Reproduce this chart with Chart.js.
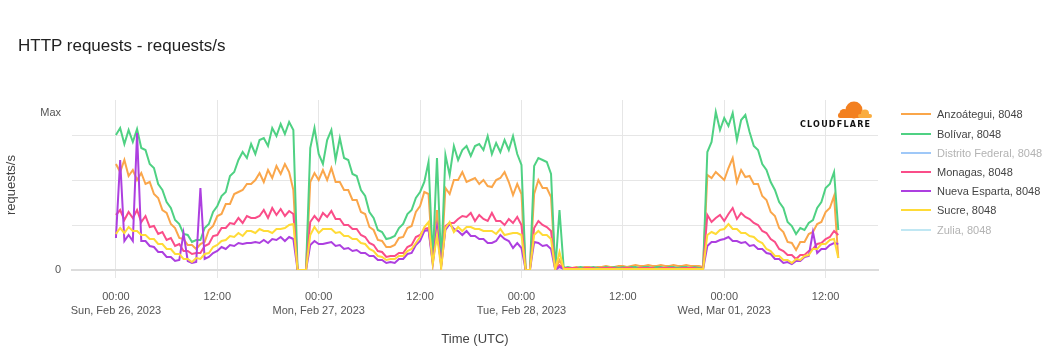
<!DOCTYPE html>
<html>
<head>
<meta charset="utf-8">
<script src="https://cdn.jsdelivr.net/npm/chart.js@4.4.0/dist/chart.umd.min.js"></script>
<style>
  body { margin: 0; background: #fff; font-family: "Liberation Sans", Arial, sans-serif; }
  #wrap { position: relative; width: 1060px; height: 360px; }
  #title { position: absolute; left: 18px; top: 36px; font-size: 17px; color: #222; }
  #legend { position: absolute; left: 901px; top: 0; }
  .item { position: absolute; left: 0; height: 19px; display: flex; align-items: center; white-space: nowrap; font-size: 11px; }
  .item span.ln { display: inline-block; width: 30px; height: 2px; margin-right: 6px; }
  #logo { position: absolute; left: 798px; top: 99px; }
</style>
</head>
<body>
<div id="wrap">
  <canvas id="myChart" width="1060" height="360"></canvas>
  <div id="title">HTTP requests - requests/s</div>
  <div id="legend"></div>
  <svg id="logo" width="76" height="30" viewBox="0 0 76 30">
    <circle cx="56" cy="11" r="8.5" fill="#f38020"/>
    <circle cx="46" cy="14.5" r="4.5" fill="#f38020"/>
    <rect x="40" y="14" width="26" height="5" rx="2" fill="#f38020"/>
    <circle cx="67" cy="14.5" r="4" fill="#faad3f"/>
    <rect x="60" y="15" width="14" height="4" rx="2" fill="#faad3f"/>
    <text x="2" y="28" font-family="DejaVu Sans, sans-serif" font-weight="bold" font-size="8" fill="#111" textLength="70" lengthAdjust="spacing">CLOUDFLARE</text>
  </svg>
</div>
<script>
// half-hour samples from Sun Feb 26 2023 00:00 UTC (values relative, Max = 157)
var startHour = 0;
var stepHours = 0.5;

var seriesNames = ["Anzoátegui, 8048", "Bolívar, 8048", "Distrito Federal, 8048", "Monagas, 8048", "Nueva Esparta, 8048", "Sucre, 8048", "Zulia, 8048"];
var seriesColors = ["#faa64a", "#4fd183", "#9fc8f8", "#fa4d89", "#ad3fe0", "#ffdb37", "#c0e7f3"];
var seriesHidden = [false, false, true, false, false, false, true];

var anzoategui = [
  106,98,110,94,100,90,97,86,88,76,72,60,
  57,46,42,32,31,25,25,21,26,28,40,44,
  54,56,66,66,76,78,80,86,86,90,97,88,
  100,92,104,96,106,98,80,0,0,0,88,97,
  90,100,90,102,88,88,80,80,70,70,58,56,
  43,40,30,29,23,23,25,32,33,42,44,58,
  64,78,76,8,60,5,82,76,90,90,98,88,
  90,92,86,90,84,83,90,92,98,88,75,86,
  76,0,0,76,90,82,82,73,0,10,2,2,
  2,3,2,3,3,2,3,3,4,3,3,4,
  4,3,4,5,4,4,5,4,4,5,4,4,
  5,4,4,5,4,4,4,3,95,92,98,94,
  90,102,112,88,100,93,94,86,86,74,70,58,
  54,42,38,28,27,20,28,28,36,38,46,48,
  58,62,74,12
];
var bolivar = [
  135,142,126,140,128,141,122,120,106,102,86,80,
  68,62,50,46,36,35,28,30,30,42,46,58,
  64,74,78,94,98,110,118,112,126,116,130,132,
  124,142,134,146,136,148,140,0,0,0,122,142,
  116,106,130,140,110,132,112,110,96,94,80,74,
  58,52,40,38,31,32,34,42,46,56,60,72,
  78,88,108,10,112,6,115,95,124,110,120,124,
  114,124,126,120,134,116,127,118,130,120,134,116,
  105,0,0,104,112,110,108,96,0,60,2,3,
  2,2,3,2,2,3,2,2,3,2,3,2,
  3,2,3,3,2,3,3,2,3,3,2,3,
  3,2,3,3,2,3,2,2,118,128,158,140,
  152,144,157,130,150,155,138,124,120,106,100,88,
  80,68,62,48,44,36,42,40,47,50,62,68,
  82,86,98,40
];
var monagas = [
  55,60,50,58,52,60,48,54,43,44,36,38,
  30,32,24,26,19,19,16,17,17,24,26,34,
  35,42,42,47,46,52,47,54,52,52,54,60,
  52,62,55,61,54,59,56,0,0,0,48,54,
  49,57,53,59,51,51,45,45,41,41,35,33,
  27,25,19,18,13,14,14,17,17,23,25,33,
  35,41,42,8,40,5,44,47,47,51,54,53,
  57,49,55,51,49,57,49,49,45,51,47,53,
  45,0,0,42,49,45,43,39,0,5,2,2,
  2,2,1,2,2,2,1,2,2,2,2,1,
  2,2,2,1,2,2,2,2,1,2,2,2,
  2,1,2,2,2,2,1,2,55,48,52,55,
  49,56,62,51,57,53,51,47,45,39,37,31,
  28,21,19,15,15,11,15,15,19,21,26,27,
  31,33,39,35
];
var nuevaEsparta = [
  32,110,29,35,29,137,29,29,24,23,18,18,
  13,13,9,10,37,9,7,8,82,11,13,17,
  19,23,21,25,24,27,26,27,27,28,27,30,
  27,31,30,33,29,33,31,0,0,0,25,29,
  26,26,27,28,24,25,21,22,19,20,17,17,
  14,14,10,10,7,8,7,11,11,16,17,25,
  29,39,40,6,42,4,40,46,41,39,35,39,
  34,34,31,31,27,27,29,35,31,29,22,27,
  22,0,0,28,27,24,25,21,0,3,1,1,
  1,1,1,1,1,1,1,1,1,1,1,1,
  1,1,1,1,1,1,1,1,1,1,1,1,
  1,1,1,1,1,1,1,1,24,28,28,30,
  31,33,29,29,27,28,24,25,21,21,17,16,
  11,11,7,8,6,9,9,13,14,38,17,21,
  21,25,27,26
];
var sucre = [
  36,42,37,43,39,39,35,35,31,31,26,26,
  21,21,16,16,11,11,8,12,11,16,17,23,
  25,29,30,34,33,37,34,39,39,37,41,39,
  39,37,41,41,42,45,46,0,0,0,35,43,
  37,41,41,41,37,38,34,34,31,31,27,26,
  21,19,14,13,10,11,11,14,14,19,21,27,
  33,43,48,6,35,2,42,48,38,43,39,43,
  43,41,41,39,39,39,36,41,35,36,37,37,
  35,0,0,35,39,35,35,31,0,18,1,1,
  1,1,1,1,1,1,1,1,1,1,1,1,
  1,1,1,1,1,1,1,1,1,1,1,1,
  1,1,1,1,1,1,1,1,35,38,36,40,
  41,46,41,41,37,37,34,33,29,27,21,19,
  14,14,10,10,7,11,10,14,15,21,21,26,
  26,30,31,12
];
var distritoFederal = [];
var zulia = [];

var tickHours = [0, 12, 24, 36, 48, 60, 72, 84];
var tickLabels = [
  ["00:00", "Sun, Feb 26, 2023"], "12:00",
  ["00:00", "Mon, Feb 27, 2023"], "12:00",
  ["00:00", "Tue, Feb 28, 2023"], "12:00",
  ["00:00", "Wed, Mar 01, 2023"], "12:00"
];
var yTicks = [0, 45, 90, 135, 157];
var yLabels = ["0", "", "", "", "Max"];

var seriesValues = [anzoategui, bolivar, distritoFederal, monagas, nuevaEsparta, sucre, zulia];
var drawOrder = [5, 4, 6, 3, 2, 1, 7];

function toPoints(values) {
  var pts = [];
  for (var i = 0; i < values.length; i++) {
    pts.push({ x: startHour + i * stepHours, y: values[i] });
  }
  return pts;
}

var datasets = [];
for (var s = 0; s < seriesNames.length; s++) {
  datasets.push({
    label: seriesNames[s],
    data: toPoints(seriesValues[s]),
    borderColor: seriesColors[s],
    backgroundColor: seriesColors[s],
    borderWidth: 2,
    pointRadius: 0,
    tension: 0,
    fill: false,
    hidden: seriesHidden[s],
    order: drawOrder[s]
  });
}

// legend on the right
var legendBox = document.getElementById("legend");
for (var k = 0; k < seriesNames.length; k++) {
  var row = document.createElement("div");
  row.className = "item";
  row.style.top = (104.8 + k * 19.2) + "px";
  row.style.color = seriesHidden[k] ? "#b3b3b3" : "#444";
  var ln = document.createElement("span");
  ln.className = "ln";
  ln.style.background = seriesColors[k];
  row.appendChild(ln);
  row.appendChild(document.createTextNode(seriesNames[k]));
  legendBox.appendChild(row);
}

Chart.defaults.font.family = "'Liberation Sans', Arial, sans-serif";

new Chart("myChart", {
  type: "line",
  data: { datasets: datasets },
  options: {
    responsive: false,
    animation: false,
    devicePixelRatio: 1,
    layout: { padding: { left: 0, top: 100, right: 182, bottom: 0 } },
    plugins: { legend: { display: false }, tooltip: { enabled: false } },
    scales: {
      x: {
        type: "linear",
        min: -5.2,
        max: 90.2,
        afterBuildTicks: function (scale) {
          scale.ticks = tickHours.map(function (v) { return { value: v }; });
        },
        afterFit: function (scale) { scale.height = 90; },
        ticks: {
          autoSkip: false,
          maxRotation: 0,
          padding: 12,
          color: "#555",
          font: { size: 11, lineHeight: 1.3 },
          callback: function (v, i) { return tickLabels[i]; }
        },
        grid: { color: "#e6e6e6", tickLength: 8 },
        border: { display: true, color: "#dcdcdc", width: 2 },
        title: { display: true, text: "Time (UTC)", color: "#444", font: { size: 13 }, padding: { top: 0, bottom: 13 } }
      },
      y: {
        min: 0,
        max: 170,
        afterBuildTicks: function (scale) {
          scale.ticks = yTicks.map(function (v) { return { value: v }; });
        },
        afterFit: function (scale) { scale.width = 72; },
        ticks: {
          padding: 11,
          color: "#555",
          font: { size: 11 },
          callback: function (v, i) { return yLabels[i]; }
        },
        grid: {
          drawTicks: false,
          color: function (ctx) {
            return ctx.tick && ctx.tick.value === 157 ? "rgba(0,0,0,0)" : "#e6e6e6";
          }
        },
        border: { display: false },
        title: { display: true, text: "requests/s", color: "#444", font: { size: 13 }, padding: { top: 4, bottom: 0 } }
      }
    }
  }
});
</script>
</body>
</html>
